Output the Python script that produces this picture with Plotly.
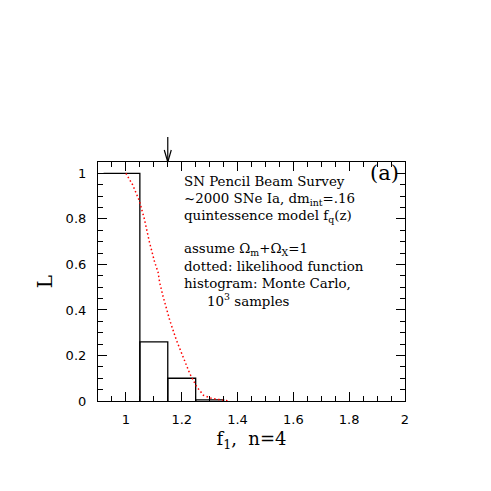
import plotly.graph_objects as go

# ---- data ----
bin_edges = [0.92, 1.05, 1.15, 1.25, 1.35]
bin_heights = [1.0, 0.26, 0.10, 0.005]

like_x = [1.0, 1.024, 1.048, 1.066, 1.084, 1.103, 1.115, 1.121, 1.133, 1.157,
          1.181, 1.205, 1.229, 1.254, 1.278, 1.308, 1.35, 1.37]
like_y = [1.0, 0.95, 0.88, 0.80, 0.70, 0.61, 0.567, 0.52, 0.46, 0.355,
          0.267, 0.193, 0.12, 0.062, 0.025, 0.011, 0.003, 0.0]

true_f1 = 1.15

x_ticks = [1, 1.2, 1.4, 1.6, 1.8, 2]
x_ticklabels = ["1", "1.2", "1.4", "1.6", "1.8", "2"]
y_ticks = [0, 0.2, 0.4, 0.6, 0.8, 1]
y_ticklabels = ["0", "0.2", "0.4", "0.6", "0.8", "1"]

text_lines = [
    "SN Pencil Beam Survey",
    "~2000 SNe Ia, dm<sub>int</sub>=.16",
    "quintessence model f<sub>q</sub>(z)",
    "assume \u03a9<sub>m</sub>+\u03a9<sub>X</sub>=1",
    "dotted: likelihood function",
    "histogram: Monte Carlo,",
    "10<sup>3</sup> samples",
]

# ---- build histogram outline (bars, first one without left side) ----
hx, hy = [], []
for i, h in enumerate(bin_heights):
    l, r = bin_edges[i], bin_edges[i + 1]
    if i == 0:
        hx += [l, r, r, None]
        hy += [h, h, 0, None]
    else:
        hx += [l, l, r, r, None]
        hy += [0, h, h, 0, None]

fig = go.Figure()
fig.add_trace(go.Scatter(x=hx, y=hy, mode="lines",
                         line=dict(color="black", width=1.3),
                         hoverinfo="skip", showlegend=False))
fig.add_trace(go.Scatter(x=like_x, y=like_y, mode="lines",
                         line=dict(color="red", width=1.5, dash="1.5px,2.5px"),
                         showlegend=False))

OFF = 8  # page body margin
W, H = 483, 483
ml, mr, mt, mb = 90, 86, 154, 90
pw, ph = W - ml - mr, H - mt - mb

def py(p):  # window pixel y -> paper
    return (H - mb - (p - OFF)) / ph

def px(p):
    return ((p - OFF) - ml) / pw

serif = "DejaVu Serif"
sans = "DejaVu Sans"

ann = []
line_y = [181, 199.5, 216.5, 249, 266, 283, 299.5]
line_x = [181.5, 181.5, 181.5, 181.5, 181.5, 181.5, 205]
for t, yy, xx in zip(text_lines, line_y, line_x):
    ann.append(dict(text=t, xref="paper", yref="paper", x=px(xx), y=py(yy),
                    xanchor="left", yanchor="middle", showarrow=False,
                    font=dict(family=serif, size=13.4, color="black")))
ann.append(dict(text="(a)", xref="paper", yref="paper", x=px(401), y=py(173),
                xanchor="right", yanchor="middle", showarrow=False,
                font=dict(family=serif, size=21, color="black")))

# arrow marking the input value
shapes = [
    dict(type="line", xref="x", yref="paper", xsizemode="pixel", ysizemode="pixel",
         xanchor=true_f1, yanchor=1, x0=0, x1=0, y0=0, y1=25,
         line=dict(color="black", width=1.2)),
    dict(type="line", xref="x", yref="paper", xsizemode="pixel", ysizemode="pixel",
         xanchor=true_f1, yanchor=1, x0=-3.5, x1=0, y0=12, y1=0,
         line=dict(color="black", width=1.2)),
    dict(type="line", xref="x", yref="paper", xsizemode="pixel", ysizemode="pixel",
         xanchor=true_f1, yanchor=1, x0=3.5, x1=0, y0=12, y1=0,
         line=dict(color="black", width=1.2)),
]

axis_common = dict(showline=True, linecolor="black", linewidth=1.2, mirror="ticks",
                   ticks="inside", ticklen=9, tickwidth=1, tickcolor="black",
                   showgrid=False, zeroline=False,
                   tickfont=dict(family=sans, size=13, color="black"))

fig.update_layout(
    width=W, height=H,
    margin=dict(l=ml, r=mr, t=mt, b=mb),
    paper_bgcolor="white", plot_bgcolor="white",
    xaxis=dict(range=[0.9, 2.0], tickvals=x_ticks, ticktext=x_ticklabels,
               minor=dict(dtick=0.05, tick0=0, ticks="inside", ticklen=5,
                          tickcolor="black", tickwidth=1, showgrid=False),
               ticklabelstandoff=6,
               title=dict(text="f<sub>1</sub>,  n=4", standoff=6,
                          font=dict(family=serif, size=18, color="black")),
               **axis_common),
    yaxis=dict(range=[0, 1.05], tickvals=y_ticks, ticktext=y_ticklabels,
               minor=dict(dtick=0.05, tick0=0, ticks="inside", ticklen=5,
                          tickcolor="black", tickwidth=1, showgrid=False),
               ticklabelstandoff=8,
               title=dict(text="L", standoff=7,
                          font=dict(family=serif, size=20, color="black")),
               **axis_common),
    annotations=ann,
    shapes=shapes,
)

fig.write_html("out.html")
